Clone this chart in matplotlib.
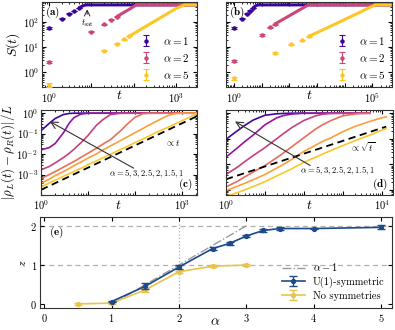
import numpy as np
import matplotlib
matplotlib.use('Agg')
import matplotlib.pyplot as plt
from matplotlib.ticker import LogLocator, NullFormatter

plt.rcParams.update({
    'font.family': 'serif', 'font.serif': ['cmr10'], 'mathtext.fontset': 'cm',
    'axes.formatter.use_mathtext': True, 'axes.unicode_minus': False,
    'xtick.direction': 'in', 'ytick.direction': 'in',
    'xtick.top': True, 'ytick.right': True,
    'xtick.major.size': 3, 'ytick.major.size': 3,
    'xtick.minor.size': 1.6, 'ytick.minor.size': 1.6,
    'xtick.major.pad': 2.5, 'ytick.major.pad': 2,
    'xtick.labelsize': 7.5, 'ytick.labelsize': 7.5,
    'axes.linewidth': 0.8, 'axes.edgecolor': '#333333',
})

cmap = plt.get_cmap('plasma')
C1, C2, C5 = cmap(0.08), cmap(0.5), cmap(0.88)
BLUE, GOLD, GREY = '#1c4a8a', '#e8c547', '#9a9a9a'

# ---------------------------------------------------------------- (a) data
a_t1 = [1, 2, 3, 4, 5]
a_S1 = [58, 135, 215, 280, 360]
a_e1 = [4, 6, 8, 8, 8]
a_t1_line = [5, 6, 7, 8, 3200]
a_S1_line = [360, 430, 480, 490, 490]
a_t2 = [1, 10, 20, 30, 40]
a_S2 = [2.6, 42, 83, 126, 168]
a_e2 = [0.3, 2, 3, 4, 5]
a_t2_line = [40, 60, 80, 100, 117, 3200]
a_S2_line = [168, 250, 330, 420, 490, 490]
a_t5 = [1, 20, 40, 60, 80]
a_S5 = [0.31, 7.2, 14, 21, 28]
a_e5 = [0.05, 0.4, 0.6, 0.8, 1.0]
a_t5_line = [80, 200, 500, 1000, 1600, 3200]
a_S5_line = [28, 70, 175, 350, 490, 490]

# ---------------------------------------------------------------- (b) data
b_t1 = [1, 2, 3, 4, 5]
b_S1 = [60, 135, 220, 290, 370]
b_e1 = [4, 6, 8, 8, 8]
b_t1_line = [5, 6, 7, 8, 5e5]
b_S1_line = [370, 440, 480, 490, 490]
b_t2 = [1, 10, 20, 30]
b_S2 = [2.8, 31, 62, 84]
b_e2 = [0.3, 2, 3, 4]
b_t2_line = [30, 100, 200, 490, 5e5]
b_S2_line = [84, 180, 280, 490, 490]
b_t5 = [1, 30, 120, 280, 500]
b_S5 = [0.57, 5.8, 13, 19.5, 27]
b_e5 = [0.06, 0.4, 0.7, 0.9, 1.0]
b_t5_line = [500, 2000, 1e4, 5e4, 1.27e5, 5e5]
b_S5_line = [27, 55, 128, 300, 490, 490]

# ---------------------------------------------------------------- (c) data
alphas = ['1', '1.5', '2', '2.5', '3', '5']
curve_cols = [cmap(v) for v in (0.1, 0.32, 0.48, 0.63, 0.78, 0.88)]
t_c = [1, 1.5, 2, 3, 4, 5, 7, 10, 15, 20, 30, 50, 70, 100, 150, 200, 300,
       500, 700, 1000, 1500, 2100]
c_a1 = [0.14, 0.32, 0.55, 0.86, 0.97, 1, 1, 1, 1, 1, 1, 1, 1, 1, 1, 1, 1,
        1, 1, 1, 1, 1]
c_a15 = [0.016, 0.021, 0.033, 0.11, 0.33, 0.6, 0.9, 0.99, 1, 1, 1, 1, 1, 1,
         1, 1, 1, 1, 1, 1, 1, 1]
c_a2 = [0.0017, 0.0025, 0.0037, 0.0068, 0.011, 0.017, 0.035, 0.08, 0.25,
        0.45, 0.85, 0.99, 1, 1, 1, 1, 1, 1, 1, 1, 1, 1]
c_a25 = [6.5e-4, 1.0e-3, 1.4e-3, 2.3e-3, 3.3e-3, 4.3e-3, 6.8e-3, 0.011,
         0.019, 0.029, 0.05, 0.14, 0.3, 0.62, 0.95, 1, 1, 1, 1, 1, 1, 1]
c_a3 = [3.8e-4, 6e-4, 8.9e-4, 1.4e-3, 2e-3, 2.7e-3, 4e-3, 6.4e-3, 0.01,
        0.015, 0.025, 0.046, 0.07, 0.11, 0.18, 0.26, 0.42, 0.75, 0.95, 1, 1, 1]
c_a5 = [2.5e-4, 3.9e-4, 5.3e-4, 8.2e-4, 1.1e-3, 1.4e-3, 2.0e-3, 3.0e-3,
        4.6e-3, 6.3e-3, 9.7e-3, 0.017, 0.024, 0.036, 0.055, 0.076, 0.12, 0.2,
        0.29, 0.42, 0.65, 0.93]
c_guide_t = [1, 2100]
c_guide_y = [1.8e-4, 0.7]

# ---------------------------------------------------------------- (d) data
t_d = [1, 2, 3, 5, 10, 20, 30, 50, 100, 200, 300, 500, 1000, 2000, 3000,
       5000, 10000, 13000]
d_a1 = [0.095, 0.21, 0.33, 0.54, 0.83, 0.95, 0.98, 1, 1, 1, 1, 1, 1, 1, 1, 1]
d_a15 = [0.019, 0.045, 0.076, 0.14, 0.35, 0.66, 0.81, 0.93, 1, 1, 1, 1, 1,
         1, 1, 1]
d_a2 = [0.004, 0.0079, 0.0126, 0.022, 0.045, 0.1, 0.16, 0.28, 0.52, 0.79,
        0.91, 0.98, 1, 1, 1, 1]
d_a25 = [1.3e-3, 2.2e-3, 3.2e-3, 5e-3, 8.9e-3, 0.018, 0.028, 0.05, 0.11,
         0.24, 0.35, 0.52, 0.79, 0.93, 0.98, 1.0]
d_a3 = [9.3e-4, 1.4e-3, 1.8e-3, 2.5e-3, 4.0e-3, 7.1e-3, 0.01, 0.016, 0.032,
        0.056, 0.079, 0.11, 0.19, 0.3, 0.37, 0.48, 0.66, 0.72]
d_a5 = [5.6e-4, 7.9e-4, 1.0e-3, 1.35e-3, 2.1e-3, 3.5e-3, 4.7e-3, 6.8e-3,
        0.012, 0.019, 0.025, 0.035, 0.054, 0.083, 0.105, 0.14, 0.22, 0.25]
d_guide_t = [1, 13000]
d_guide_y = [2.6e-3, 0.3]

# ---------------------------------------------------------------- (e) data
u1_alpha = [1, 1.5, 2, 2.5, 2.75, 3, 3.25, 3.5, 4, 5]
u1_z = [0.07, 0.46, 0.95, 1.42, 1.55, 1.74, 1.88, 1.93, 1.93, 1.96]
u1_err = [0.02, 0.07, 0.04, 0.04, 0.03, 0.03, 0.03, 0.03, 0.02, 0.05]
ns_alpha = [0.5, 1, 1.5, 2, 2.5, 3]
ns_z = [0.01, 0.03, 0.37, 0.83, 0.97, 1.0]
ns_err = [0.02, 0.02, 0.05, 0.03, 0.02, 0.02]
guide_alpha = [1, 3]
guide_z = [0, 2]

fig = plt.figure(figsize=(3.95, 3.3), dpi=100)
ax_a = fig.add_axes([0.106, 0.735, 0.392, 0.26])
ax_b = fig.add_axes([0.572, 0.735, 0.421, 0.26])
ax_c = fig.add_axes([0.104, 0.409, 0.394, 0.258])
ax_d = fig.add_axes([0.572, 0.409, 0.422, 0.258])
ax_e = fig.add_axes([0.101, 0.066, 0.891, 0.276])


def log_ticks(axis, decades, labelled):
    ticks = [10.0 ** d for d in decades]
    labels = [rf'$10^{{{d}}}$' if d in labelled else '' for d in decades]
    axis.set_ticks(ticks, labels)
    axis.set_minor_locator(LogLocator(base=10, subs=np.arange(2, 10) * 1.0,
                                      numticks=40))
    axis.set_minor_formatter(NullFormatter())


def growth_panel(ax, series, xlim, xdec, xlab, ylab_on, tag):
    ax.set_xscale('log')
    ax.set_yscale('log')
    handles = []
    for (t, S, e, tl, Sl, col, lab) in series:
        ax.plot(tl, Sl, color=col, lw=2.2, solid_capstyle='butt', zorder=2)
        h = ax.errorbar(t, S, yerr=e, fmt='o', ms=2.2, color=col, ecolor=col,
                        elinewidth=0.8, capsize=2, capthick=0.8, zorder=3,
                        label=lab)
        handles.append(h)
    ax.set_xlim(*xlim)
    ax.set_ylim(0.25, 660)
    log_ticks(ax.xaxis, xdec, xlab)
    log_ticks(ax.yaxis, [0, 1, 2], [0, 1, 2] if ylab_on else [])
    ax.legend(handles=handles, loc='lower right', frameon=False, fontsize=8,
              handlelength=1.3, handletextpad=0.9, labelspacing=0.45,
              borderaxespad=0.2)
    ax.text(0.02, 0.96, rf'$\mathbf{{({tag})}}$', transform=ax.transAxes,
            ha='left', va='top', fontsize=8)


growth_panel(ax_a, [
    (a_t1, a_S1, a_e1, a_t1_line, a_S1_line, C1, r'$\alpha = 1$'),
    (a_t2, a_S2, a_e2, a_t2_line, a_S2_line, C2, r'$\alpha = 2$'),
    (a_t5, a_S5, a_e5, a_t5_line, a_S5_line, C5, r'$\alpha = 5$'),
], (0.68, 3100), [0, 1, 2, 3], [0, 3], True, 'a')
ax_a.annotate('', xy=(8, 420), xytext=(8, 160),
              arrowprops=dict(arrowstyle='->', color='#222222', lw=0.7))
ax_a.text(8, 95, r'$t_{\mathrm{sat}}$', ha='center', va='center', fontsize=6.5)

growth_panel(ax_b, [
    (b_t1, b_S1, b_e1, b_t1_line, b_S1_line, C1, r'$\alpha = 1$'),
    (b_t2, b_S2, b_e2, b_t2_line, b_S2_line, C2, r'$\alpha = 2$'),
    (b_t5, b_S5, b_e5, b_t5_line, b_S5_line, C5, r'$\alpha = 5$'),
], (0.52, 5.2e5), [0, 1, 2, 3, 4, 5], [0, 5], False, 'b')


def density_panel(ax, t, curves, guide_t, guide_y, xlim, ylim, xdec, xlab,
                  ydec, ylab, tag, guide_txt, guide_pos, arrow_tail, arrow_head,
                  label_pos):
    ax.set_xscale('log')
    ax.set_yscale('log')
    for vals, col in zip(curves, curve_cols):
        ax.plot(t[:len(vals)], vals, color=col, lw=1.2)
    ax.plot(guide_t, guide_y, color='black', ls=(0, (4, 2.5)), lw=1.3)
    ax.set_xlim(*xlim)
    ax.set_ylim(*ylim)
    log_ticks(ax.xaxis, xdec, xlab)
    log_ticks(ax.yaxis, ydec, ylab)
    ax.annotate('', xy=arrow_head, xytext=arrow_tail, xycoords='axes fraction',
                arrowprops=dict(arrowstyle='->,head_length=0.5,head_width=0.25',
                                color='#333333', lw=0.8))
    ax.text(*label_pos, r'$\alpha = 5, 3, 2.5, 2, 1.5, 1$',
            transform=ax.transAxes, ha='center', va='center', fontsize=6.2)
    ax.text(*guide_pos, guide_txt, transform=ax.transAxes, ha='center',
            va='center', fontsize=6.8)
    ax.text(0.97, 0.03, rf'$\mathbf{{({tag})}}$', transform=ax.transAxes,
            ha='right', va='bottom', fontsize=8)


density_panel(ax_c, t_c, [c_a1, c_a15, c_a2, c_a25, c_a3, c_a5],
              c_guide_t, c_guide_y, (1, 2100), (1.6e-4, 1.45),
              [0, 1, 2, 3], [0, 3], [-4, -3, -2, -1, 0], [-3, -2, -1, 0],
              'c', r'$\propto t$', (0.85, 0.61), (0.61, 0.30), (0.04, 0.88),
              (0.68, 0.25))
density_panel(ax_d, t_d, [d_a1, d_a15, d_a2, d_a25, d_a3, d_a5],
              d_guide_t, d_guide_y, (1, 1.9e4), (6.3e-4, 1.35),
              [0, 1, 2, 3, 4], [0, 4], [-3, -2, -1, 0], [],
              'd', r'$\propto \sqrt{t}$', (0.82, 0.56), (0.52, 0.33),
              (0.04, 0.88), (0.67, 0.28))

# ---------------------------------------------------------------- (e)
ax_e.axhline(1, color='#b0b0b0', ls=(0, (4, 3)), lw=0.9, zorder=0)
ax_e.axhline(2, color='#b0b0b0', ls=(0, (4, 3)), lw=0.9, zorder=0)
ax_e.axvline(2, color='#b0b0b0', ls=':', lw=0.9, zorder=0)
g, = ax_e.plot(guide_alpha, guide_z, color=GREY, ls='-.', lw=1.0,
               label=r'$\alpha - 1$', zorder=1)
hn = ax_e.errorbar(ns_alpha, ns_z, yerr=ns_err, fmt='-o', color=GOLD, ms=2.8,
                   lw=1.2, elinewidth=1, capsize=3, capthick=1, zorder=2,
                   label='No symmetries')
hu = ax_e.errorbar(u1_alpha, u1_z, yerr=u1_err, fmt='-o', color=BLUE, ms=2.8,
                   lw=1.2, elinewidth=1, capsize=3, capthick=1, zorder=3,
                   label='U(1)-symmetric')
ax_e.set_xlim(-0.065, 5.16)
ax_e.set_ylim(-0.1, 2.22)
ax_e.set_xticks([0, 1, 2, 3, 4, 5])
ax_e.set_yticks([0, 1, 2])
ax_e.set_xticklabels([rf'${v}$' for v in range(6)])
ax_e.set_yticklabels([rf'${v}$' for v in range(3)])
ax_e.legend(handles=[g, hu, hn], loc='lower right', frameon=False,
            fontsize=7.5, handlelength=2.2, labelspacing=0.3,
            borderaxespad=0.3)
ax_e.text(0.025, 0.92, r'$\mathbf{(e)}$', transform=ax_e.transAxes,
          ha='left', va='top', fontsize=8)

# ---------------------------------------------------------------- axis labels
fig.text(0.301, 0.712, r'$t$', ha='center', va='center', fontsize=10)
fig.text(0.782, 0.712, r'$t$', ha='center', va='center', fontsize=10)
fig.text(0.299, 0.376, r'$t$', ha='center', va='center', fontsize=10)
fig.text(0.782, 0.376, r'$t$', ha='center', va='center', fontsize=10)
fig.text(0.544, 0.024, r'$\alpha$', ha='center', va='center', fontsize=10)
fig.text(0.032, 0.864, r'$S(t)$', ha='center', va='center', rotation=90,
         fontsize=10)
fig.text(0.02, 0.54, r'$|\rho_L(t)-\rho_R(t)|/L$', ha='center', va='center',
         rotation=90, fontsize=9.3)
fig.text(0.058, 0.203, r'$z$', ha='center', va='center', rotation=90,
         fontsize=8.5)

fig.savefig('out.png', dpi=100)
